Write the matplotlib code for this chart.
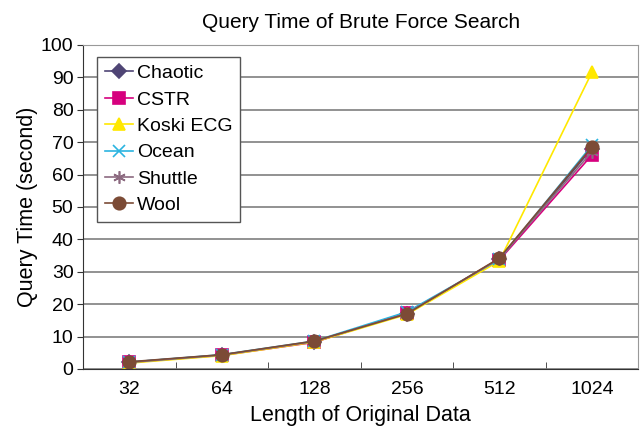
import matplotlib
matplotlib.use("Agg")
import matplotlib.pyplot as plt
import numpy as np

plt.rcParams['font.family'] = ['Liberation Sans', 'DejaVu Sans']

lengths = ["32", "64", "128", "256", "512", "1024"]
chaotic = [2.1, 4.3, 8.4, 17.0, 34.0, 68.0]
cstr = [2.0, 4.2, 8.2, 17.4, 33.6, 66.0]
koski = [1.8, 4.1, 8.3, 16.8, 33.3, 91.5]
ocean = [2.1, 4.4, 8.6, 17.6, 33.8, 69.0]
shuttle = [2.0, 4.3, 8.5, 17.1, 34.0, 67.0]
wool = [2.2, 4.4, 8.6, 17.0, 34.2, 68.5]

series = [
    ("Chaotic", chaotic, "#4f4575", "D", 7),
    ("CSTR", cstr, "#d6007e", "s", 8),
    ("Koski ECG", koski, "#ffe800", "^", 9),
    ("Ocean", ocean, "#2bb4e0", "x", 8),
    ("Shuttle", shuttle, "#8c6a80", (6, 2, 0), 9),
    ("Wool", wool, "#7c4b36", "o", 9),
]

fig = plt.figure(figsize=(6.4, 4.32), dpi=100)
ax = fig.add_axes([0.13, 0.146, 0.867, 0.75])

x = np.arange(len(lengths))
for name, vals, col, mk, ms in series:
    ax.plot(x, vals, color=col, marker=mk, markersize=ms, linewidth=1.2,
            label=name, markeredgewidth=1.2)

ax.set_xlim(-0.5, len(lengths) - 0.5)
ax.set_ylim(0, 100)
ax.set_yticks(range(0, 101, 10))
ax.yaxis.grid(True, color="#7f7f7f", linewidth=1.2)
ax.set_axisbelow(True)

ax.set_xticks(x)
ax.set_xticklabels(lengths)
ax.set_xticks(np.arange(0.5, len(lengths) - 0.5, 1), minor=True)
ax.tick_params(axis="x", which="major", length=0, labelsize=14, pad=9)
ax.tick_params(axis="x", which="minor", direction="in", length=5, color="#333333")
ax.tick_params(axis="y", labelsize=14, length=4, color="#333333", pad=3)

for s in ["top", "right"]:
    ax.spines[s].set_color("#999999")
for s in ["left", "bottom"]:
    ax.spines[s].set_color("#333333")

ax.set_xlabel("Length of Original Data", fontsize=15.5, labelpad=5)
ax.set_ylabel("Query Time (second)", fontsize=15.5, labelpad=2)
ax.set_title("Query Time of Brute Force Search", fontsize=15, pad=12)

leg = ax.legend(loc="upper left", bbox_to_anchor=(0.025, 0.963), fontsize=14,
                fancybox=False, framealpha=1, edgecolor="#555555",
                handlelength=1.45, borderpad=0.4, borderaxespad=0,
                labelspacing=0.45, handletextpad=0.2)
leg.get_frame().set_linewidth(1.0)

fig.savefig("out.png", dpi=100)
